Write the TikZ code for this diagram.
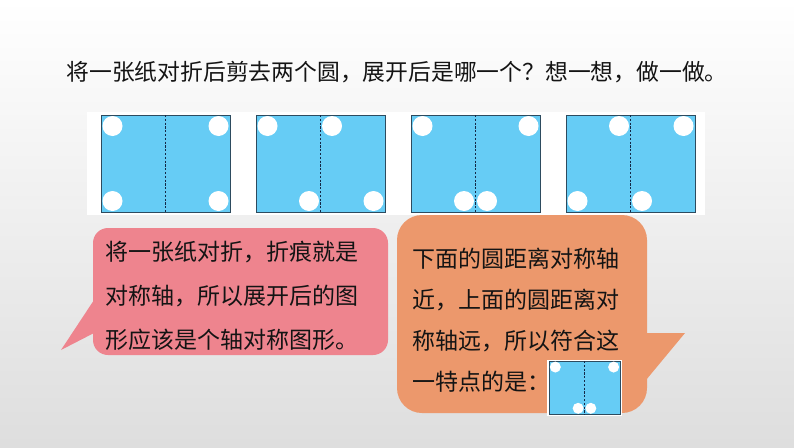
\documentclass[tikz,border=0pt]{standalone}
\usepackage{fontspec}
\newfontfamily\cjk{Noto Sans CJK SC}
\definecolor{sheetblue}{RGB}{102,204,245}
\definecolor{sheetedge}{RGB}{45,75,95}
\definecolor{foldnavy}{RGB}{20,40,70}
\definecolor{pinkbox}{RGB}{238,132,142}
\definecolor{orangebox}{RGB}{236,152,108}
\definecolor{inkc}{RGB}{20,20,20}

\tikzset{
    sheet/.style={fill=sheetblue, draw=sheetedge, line width=0.9pt},
    fold/.style={draw=foldnavy, line width=0.8pt, dash pattern=on 2.2pt off 1.6pt},
    hole/.style={fill=white},
    talk/.style={font=\cjk\fontsize{23}{28}\selectfont, text=inkc, inner sep=0pt, anchor=base west},
    pics/foldsheet/.style n args={4}{code={
        \filldraw[sheet] (0,0) rectangle (129,97);
        \draw[fold] (64.5,0) -- (64.5,97);
        \fill[hole] (#1,11) circle (10) (#2,11) circle (10)
                    (#3,86) circle (10) (#4,86) circle (10);
    }}
}

\begin{document}
\begin{tikzpicture}[x=1pt, y=-1pt]
    % Background
    \shade[top color=white, bottom color=black!13] (0,0) rectangle (794,447);
    \useasboundingbox (0,0) rectangle (794,447);

    % Question
    \node[font=\cjk\fontsize{22.8}{27}\selectfont, text=inkc, anchor=base] (title) at (397,80.5)
        {将一张纸对折后剪去两个圆，展开后是哪一个？想一想，做一做。};

    % Four unfolded sheets
    \fill[white] (87,112) rectangle (705,215);
    \foreach \sx/\ta/\tb/\ba/\bb in {101/11.5/117.5/11.5/117.5, 256/11.5/76/53/117.5,
                                    411/11.5/117.5/53/76, 566/53/117.5/11.5/76}
        \pic at (\sx,115) {foldsheet={\ta}{\tb}{\ba}{\bb}};

    % Left callout
    \fill[pinkbox, rounded corners=15pt] (93,228) rectangle (388,355);
    \fill[pinkbox] (94,300) -- (61,350) -- (94,333) -- cycle;
    \foreach \line [count=\i] in {将一张纸对折，折痕就是, 对称轴，所以展开后的图, 形应该是个轴对称图形。}
        \node[talk] (left\i) at (105,216.7+44*\i) {\line};

    % Right callout
    \fill[orangebox, rounded corners=25pt] (397,215) rectangle (647,413);
    \fill[orangebox] (646,333) -- (685,333) -- (646,380) -- cycle;
    \foreach \line [count=\i] in {下面的圆距离对称轴, 近，上面的圆距离对, 称轴远，所以符合这, 一特点的是：}
        \node[talk] (right\i) at (412,226.2+41*\i) {\line};

    % Answer sheet
    \fill[white] (547,359.5) rectangle (621.5,415.5);
    \pic[scale=0.55] at (549,361) {foldsheet={11.5}{117.5}{53}{76}};
\end{tikzpicture}
\end{document}
